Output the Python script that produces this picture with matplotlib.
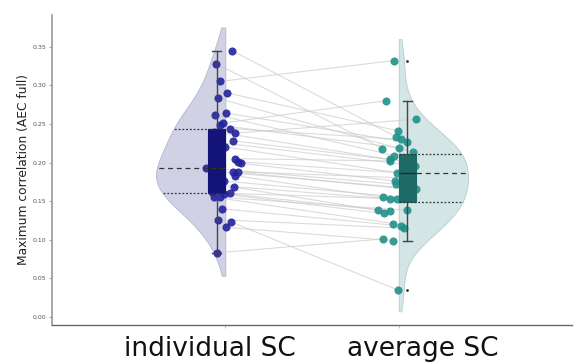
import numpy as np
import matplotlib
matplotlib.use("Agg")
import matplotlib.pyplot as plt

# =========================
# Data (paired subjects)
# =========================
groups = ["individual SC", "average SC"]

individual_sc = [0.345, 0.328, 0.305, 0.290, 0.283, 0.264, 0.262, 0.251, 0.248,
                 0.244, 0.240, 0.238, 0.228, 0.226, 0.220, 0.205, 0.201, 0.199,
                 0.193, 0.188, 0.188, 0.188, 0.183, 0.176, 0.170, 0.168, 0.160,
                 0.162, 0.159, 0.155, 0.155, 0.140, 0.126, 0.123, 0.116, 0.083]

average_sc = [0.233, 0.218, 0.332, 0.241, 0.213, 0.226, 0.209, 0.280, 0.219,
              0.230, 0.204, 0.256, 0.201, 0.196, 0.187, 0.202, 0.186, 0.176,
              0.172, 0.166, 0.165, 0.180, 0.155, 0.154, 0.153, 0.138, 0.153,
              0.137, 0.134, 0.121, 0.138, 0.118, 0.115, 0.035, 0.099, 0.101]

# horizontal jitter of the dots
jitter_ind = [0.039, -0.052, -0.029, 0.010, -0.042, 0.004, -0.058, -0.013, -0.029,
              0.029, -0.064, 0.056, 0.046, -0.042, 0.000, 0.056, 0.071, 0.089,
              -0.111, -0.035, 0.046, 0.073, 0.054, -0.006, -0.027, 0.052, 0.025,
              -0.077, -0.010, -0.064, -0.029, -0.017, -0.044, 0.033, 0.006, -0.050]
jitter_avg = [-0.013, -0.094, -0.027, -0.004, 0.085, 0.048, -0.027, -0.075, 0.004,
              0.013, -0.052, 0.102, 0.060, 0.092, -0.012, -0.052, 0.050, -0.021,
              -0.017, 0.100, 0.069, 0.040, -0.091, 0.068, -0.052, -0.118, -0.012,
              -0.050, -0.087, -0.030, 0.046, 0.013, 0.033, -0.006, -0.035, -0.092]

# box statistics as drawn in the figure
box_q1 = [0.161, 0.149]
box_med = [0.193, 0.187]
box_q3 = [0.244, 0.211]
box_lo = [0.083, 0.099]
box_hi = [0.345, 0.280]
box_out = [[], [0.332, 0.035]]

y_ticks = [0.00, 0.05, 0.10, 0.15, 0.20, 0.25, 0.30, 0.35]

fill_cols = ["#d1d1e6", "#d3e5e4"]
edge_cols = ["#b4b4cc", "#b4cecc"]
dot_cols = ["#22229c", "#22908a"]
box_cols = ["#131378", "#1c6b66"]


def kde(data, grid):
    data = np.asarray(data)
    bw = data.std(ddof=1) * len(data) ** (-1 / 5)
    z = (grid[:, None] - data[None, :]) / bw
    return np.exp(-0.5 * z ** 2).sum(axis=1)


fig = plt.figure(figsize=(5.79, 3.62), dpi=100)
ax = fig.add_axes([0.0898, 0.1022, 0.8982, 0.8564])

pos = [1, 2]
sides = [-1, 1]
datasets = [np.array(individual_sc), np.array(average_sc)]

# =========================
# Half violins + quartile lines
# =========================
for i, (d, p, s) in enumerate(zip(datasets, pos, sides)):
    bw = d.std(ddof=1) * len(d) ** (-1 / 5)
    grid = np.linspace(d.min() - bw, d.max() + bw, 300)
    w = kde(d, grid)
    w = w / w.max() * 0.40
    ax.fill_betweenx(grid, p, p + s * w, facecolor=fill_cols[i], edgecolor=edge_cols[i],
                     lw=0.6, zorder=1)
    for q, ls in [(box_q1[i], (0, (1.5, 1.5))), (box_med[i], (0, (4, 3))),
                  (box_q3[i], (0, (1.5, 1.5)))]:
        wq = np.interp(q, grid, w)
        ax.plot([p, p + s * wq], [q, q], color="#333333", lw=0.9, ls=ls, zorder=5)

# =========================
# Paired lines + dots
# =========================
x_ind = np.array(pos[0]) + np.array(jitter_ind)
x_avg = np.array(pos[1]) + np.array(jitter_avg)
for xa, ya, xb, yb in zip(x_ind, individual_sc, x_avg, average_sc):
    ax.plot([xa, xb], [ya, yb], color="#cccccc", lw=0.8, alpha=0.7, zorder=2)

ax.scatter(x_ind, individual_sc, s=34, color=dot_cols[0], alpha=0.9, lw=0, zorder=3)
ax.scatter(x_avg, average_sc, s=34, color=dot_cols[1], alpha=0.9, lw=0, zorder=3)

# =========================
# Boxplots
# =========================
for i, (p, s) in enumerate(zip(pos, sides)):
    stats = [dict(q1=box_q1[i], med=box_med[i], q3=box_q3[i], whislo=box_lo[i],
                  whishi=box_hi[i], fliers=box_out[i])]
    ax.bxp(stats, positions=[p + s * 0.05], widths=0.1, patch_artist=True,
           boxprops=dict(facecolor=box_cols[i], edgecolor=box_cols[i], lw=0.8),
           medianprops=dict(color="#222222", lw=0.9),
           whiskerprops=dict(color="#444444", lw=1.0),
           capprops=dict(color="#444444", lw=1.0),
           flierprops=dict(marker=".", markersize=2, markerfacecolor="#333333",
                           markeredgecolor="#333333"),
           manage_ticks=False, zorder=4)

# =========================
# Axes styling
# =========================
ax.set_xlim(0, 3)
ax.set_ylim(-0.0104, 0.391)
ax.set_yticks(y_ticks)
ax.set_yticklabels([f"{t:.2f}" for t in y_ticks], fontsize=4.5, color="#555555")
ax.tick_params(axis="y", length=2, width=0.5, color="#777777", pad=2)
ax.set_xticks(pos)
ax.set_xticklabels([])
ax.tick_params(axis="x", length=2, width=0.5, color="#aaaaaa")
ax.set_ylabel("Maximum correlation (AEC full)", fontsize=8.8, color="#222222", labelpad=2)
for sp in ["top", "right"]:
    ax.spines[sp].set_visible(False)
ax.spines["left"].set_color("#999999")
ax.spines["left"].set_linewidth(1.2)
ax.spines["bottom"].set_color("#666666")
ax.spines["bottom"].set_linewidth(1.0)

fig.text(210 / 579, 0.0, groups[0], fontsize=19, ha="center", va="bottom",
         color="#111111")
fig.text(423 / 579, 0.0, groups[1], fontsize=19, ha="center", va="bottom",
         color="#111111")

fig.savefig("out.png", dpi=100)
